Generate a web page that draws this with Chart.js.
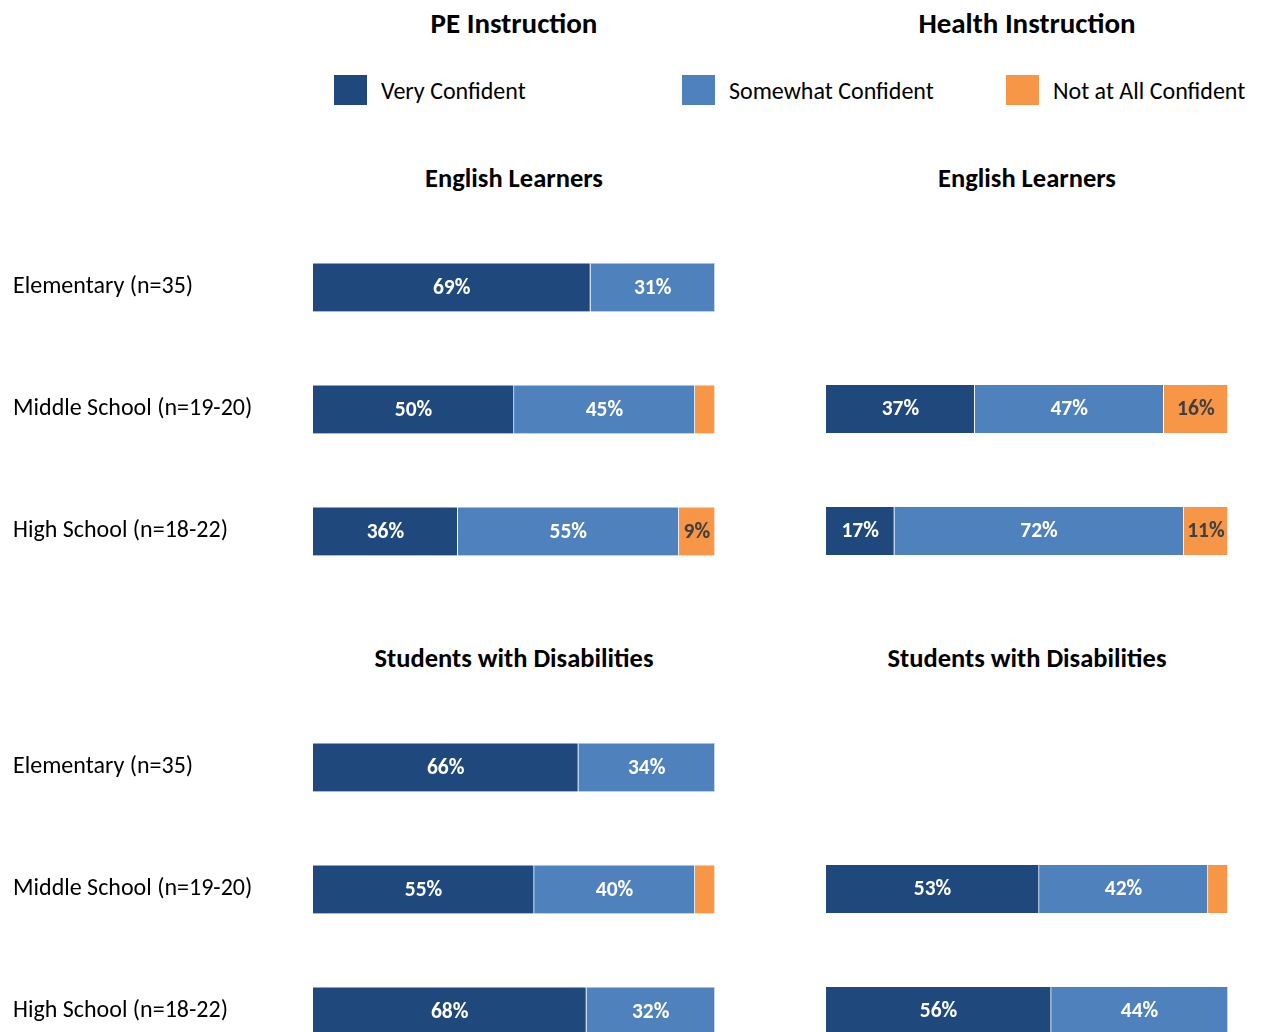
<!DOCTYPE html>
<html>
<head>
<meta charset="utf-8">
<script src="https://cdn.jsdelivr.net/npm/chart.js@4.4.1/dist/chart.umd.min.js"></script>
<style>
  html, body { margin: 0; padding: 0; background: #fff; overflow: hidden; }
  body { width: 1262px; height: 1032px; position: relative; font-family: Carlito, Calibri, Lato, sans-serif; color: #000; }
  .hdr { position: absolute; font-weight: bold; font-size: 29px; transform: translate(-50%, -50%); white-space: nowrap; }
  .sub { position: absolute; font-weight: bold; font-size: 26.5px; transform: translate(-50%, -50%); white-space: nowrap; }
  .leg { position: absolute; top: 75px; height: 30px; display: flex; align-items: center; font-size: 24px; white-space: nowrap; }
  .leg i { display: inline-block; width: 33px; height: 30px; margin-right: 14px; }
  .box { position: absolute; }
</style>
</head>
<body>
<div class="hdr" style="left:514px; top:23px">PE Instruction</div>
<div class="hdr" style="left:1027px; top:23px">Health Instruction</div>
<div id="legend"></div>
<div class="sub" style="left:514px; top:178px">English Learners</div>
<div class="sub" style="left:1027px; top:178px">English Learners</div>
<div class="sub" style="left:514px; top:658px">Students with Disabilities</div>
<div class="sub" style="left:1027px; top:658px">Students with Disabilities</div>

<div class="box" id="b_peEL"><canvas id="peEL"></canvas></div>
<div class="box" id="b_hEL"><canvas id="hEL"></canvas></div>
<div class="box" id="b_peSWD"><canvas id="peSWD"></canvas></div>
<div class="box" id="b_hSWD"><canvas id="hSWD"></canvas></div>

<script>
// categories and series
const groups = ['Elementary (n=35)', 'Middle School (n=19-20)', 'High School (n=18-22)'];
const seriesNames = ['Very Confident', 'Somewhat Confident', 'Not at All Confident'];
const seriesColors = ['#1f497d', '#4f81bd', '#f79646'];
const labelColors = ['#ffffff', '#ffffff', '#404040'];

// percentages per group: [elementary, middle, high]
const peEL_very = [69, 50, 36];
const peEL_some = [31, 45, 55];
const peEL_not  = [0, 5, 9];

const hEL_very = [null, 37, 17];
const hEL_some = [null, 47, 72];
const hEL_not  = [null, 16, 11];

const peSWD_very = [66, 55, 68];
const peSWD_some = [34, 40, 32];
const peSWD_not  = [0, 5, 0];

const hSWD_very = [null, 53, 56];
const hSWD_some = [null, 42, 44];
const hSWD_not  = [null, 5, 0];

const FONT = 'Carlito, Calibri, Lato, sans-serif';
const TICK_SIZE = 24;
const PLOT_H = 366;  // three rows, 122px each

// legend
const legend = document.getElementById('legend');
const legendX = [334, 682, 1006];
seriesNames.forEach((name, i) => {
  const d = document.createElement('div');
  d.className = 'leg';
  d.style.left = legendX[i] + 'px';
  d.innerHTML = '<i style="background:' + seriesColors[i] + '"></i>' + name;
  legend.appendChild(d);
});

// percentage labels in the middle of each segment
const segLabels = {
  id: 'segLabels',
  afterDatasetsDraw(chart) {
    const ctx = chart.ctx;
    ctx.save();
    ctx.font = 'bold 21.5px ' + FONT;
    ctx.textAlign = 'center';
    ctx.textBaseline = 'middle';
    chart.data.datasets.forEach((ds, di) => {
      chart.getDatasetMeta(di).data.forEach((bar, i) => {
        const v = ds.data[i];
        if (v == null || v < 8) return;
        ctx.fillStyle = labelColors[di];
        ctx.fillText(v + '%', (bar.x + bar.base) / 2, bar.y + 1);
      });
    });
    ctx.restore();
  }
};

function makeChart(id, top, very, some, not, showLabels) {
  // the category axis reserves half a label line above and below the plot
  const box = document.getElementById('b_' + id);
  const half = showLabels ? TICK_SIZE * 1.2 / 2 : 0;
  box.style.left = (showLabels ? 0 : 826) + 'px';
  box.style.width = (showLabels ? 740 : 402) + 'px';
  box.style.top = (top - half) + 'px';
  box.style.height = (PLOT_H + 2 * half) + 'px';

  const sets = [very, some, not].map((data, i) => ({
    label: seriesNames[i],
    data: data,
    backgroundColor: seriesColors[i],
    borderColor: '#ffffff',
    borderWidth: { right: 1 },
    borderSkipped: false,
    barThickness: 48
  }));

  const yAxis = {
    stacked: true,
    display: showLabels,
    grid: { display: false },
    border: { display: false },
    ticks: {
      crossAlign: 'far',
      color: '#000',
      padding: 0,
      font: { family: FONT, size: TICK_SIZE }
    }
  };
  if (showLabels) yAxis.afterFit = (axis) => { axis.width = 300; };

  new Chart(document.getElementById(id), {
    type: 'bar',
    data: { labels: groups, datasets: sets },
    options: {
      indexAxis: 'y',
      responsive: true,
      maintainAspectRatio: false,
      animation: false,
      layout: { padding: showLabels ? { left: 13, right: 25, top: 0, bottom: 0 } : 0 },
      plugins: { legend: { display: false }, tooltip: { enabled: false } },
      scales: {
        x: { stacked: true, min: 0, max: 100, display: false },
        y: yAxis
      }
    },
    plugins: [segLabels]
  });
}

makeChart('peEL', 226, peEL_very, peEL_some, peEL_not, true);
makeChart('hEL', 226, hEL_very, hEL_some, hEL_not, false);
makeChart('peSWD', 706, peSWD_very, peSWD_some, peSWD_not, true);
makeChart('hSWD', 706, hSWD_very, hSWD_some, hSWD_not, false);
</script>
</body>
</html>
